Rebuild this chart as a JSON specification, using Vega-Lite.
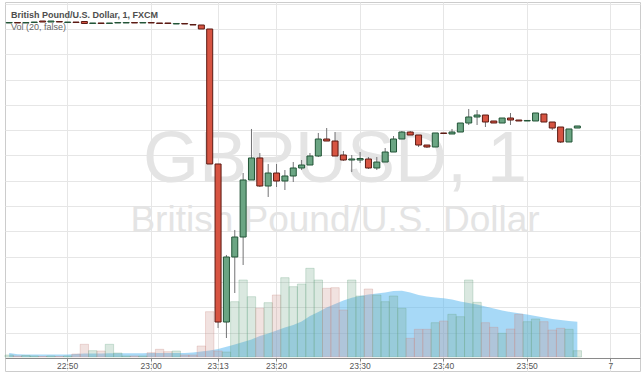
{
  "$schema": "https://vega.github.io/schema/vega-lite/v6.json",
  "width": 635,
  "height": 369,
  "autosize": {"type": "none"},
  "padding": {"left": 5, "top": 2, "right": 2, "bottom": 6},
  "background": "white",
  "title": {
    "text": "British Pound/U.S. Dollar, 1, FXCM",
    "subtitle": "Vol (20, false)",
    "anchor": "start",
    "frame": "group",
    "orient": "top",
    "offset": -30,
    "dx": 6,
    "font": "Liberation Sans",
    "fontSize": 9,
    "fontWeight": "bold",
    "color": "#4d4d4d",
    "subtitleFont": "Liberation Sans",
    "subtitleFontSize": 9,
    "subtitleColor": "#666666",
    "subtitlePadding": 3
  },
  "config": {
    "view": {"stroke": "#cccccc"},
    "text": {"font": "Liberation Sans"}
  },
  "datasets": {
    "bars": [
      {"t":"22:43","o":1.26119,"h":1.26128,"l":1.26119,"c":1.26128,"d":"up","v":20,"ma":40},
      {"t":"22:44","o":1.26128,"h":1.26128,"l":1.26119,"c":1.26119,"d":"down","v":10,"ma":28},
      {"t":"22:45","o":1.26119,"h":1.26128,"l":1.26119,"c":1.26128,"d":"up","v":15,"ma":25},
      {"t":"22:46","o":1.26128,"h":1.26138,"l":1.26128,"c":1.26138,"d":"up","v":10,"ma":25},
      {"t":"22:47","o":1.26158,"h":1.26158,"l":1.26138,"c":1.26138,"d":"down","v":5,"ma":25},
      {"t":"22:48","o":1.26138,"h":1.26158,"l":1.26138,"c":1.26158,"d":"up","v":10,"ma":25},
      {"t":"22:49","o":1.26148,"h":1.26148,"l":1.26138,"c":1.26138,"d":"down","v":5,"ma":25},
      {"t":"22:50","o":1.26128,"h":1.26138,"l":1.26128,"c":1.26138,"d":"up","v":10,"ma":25},
      {"t":"22:51","o":1.26138,"h":1.26138,"l":1.26128,"c":1.26128,"d":"down","v":30,"ma":30},
      {"t":"22:52","o":1.26148,"h":1.26148,"l":1.26109,"c":1.26109,"d":"down","v":127,"ma":35},
      {"t":"22:53","o":1.26109,"h":1.26119,"l":1.26109,"c":1.26119,"d":"up","v":63,"ma":35},
      {"t":"22:54","o":1.26119,"h":1.26119,"l":1.26109,"c":1.26109,"d":"down","v":60,"ma":35},
      {"t":"22:55","o":1.26109,"h":1.26119,"l":1.26109,"c":1.26119,"d":"up","v":127,"ma":38},
      {"t":"22:56","o":1.26119,"h":1.26128,"l":1.26119,"c":1.26128,"d":"up","v":40,"ma":38},
      {"t":"22:57","o":1.26119,"h":1.26128,"l":1.26119,"c":1.26128,"d":"up","v":10,"ma":38},
      {"t":"22:58","o":1.26128,"h":1.26128,"l":1.26119,"c":1.26119,"d":"down","v":10,"ma":38},
      {"t":"22:59","o":1.26119,"h":1.26128,"l":1.26119,"c":1.26128,"d":"up","v":10,"ma":38},
      {"t":"23:00","o":1.26128,"h":1.26128,"l":1.26119,"c":1.26119,"d":"down","v":43,"ma":40},
      {"t":"23:01","o":1.26119,"h":1.26119,"l":1.26109,"c":1.26109,"d":"down","v":77,"ma":40},
      {"t":"23:02","o":1.26119,"h":1.26119,"l":1.26109,"c":1.26109,"d":"down","v":53,"ma":40},
      {"t":"23:03","o":1.26099,"h":1.26109,"l":1.26099,"c":1.26109,"d":"up","v":60,"ma":40},
      {"t":"23:04","o":1.26109,"h":1.26109,"l":1.26099,"c":1.26099,"d":"down","v":20,"ma":40},
      {"t":"23:05","o":1.26089,"h":1.26089,"l":1.26079,"c":1.26079,"d":"down","v":20,"ma":45},
      {"t":"23:06","o":1.26079,"h":1.26079,"l":1.26000,"c":1.26000,"d":"down","v":110,"ma":55},
      {"t":"23:07","o":1.26000,"h":1.26000,"l":1.23332,"c":1.23332,"d":"down","v":453,"ma":65},
      {"t":"23:13","o":1.23332,"h":1.23332,"l":1.20091,"c":1.20209,"d":"down","v":60,"ma":80},
      {"t":"23:14","o":1.20209,"h":1.21534,"l":1.19893,"c":1.21494,"d":"up","v":50,"ma":103},
      {"t":"23:15","o":1.21494,"h":1.22028,"l":1.20782,"c":1.21889,"d":"up","v":553,"ma":125},
      {"t":"23:16","o":1.21889,"h":1.23154,"l":1.21336,"c":1.23016,"d":"up","v":770,"ma":150},
      {"t":"23:17","o":1.23016,"h":1.24024,"l":1.23016,"c":1.23451,"d":"up","v":603,"ma":175},
      {"t":"23:18","o":1.23451,"h":1.23549,"l":1.22877,"c":1.22897,"d":"down","v":487,"ma":210},
      {"t":"23:19","o":1.22897,"h":1.23332,"l":1.22680,"c":1.23154,"d":"up","v":543,"ma":235},
      {"t":"23:20","o":1.23154,"h":1.23332,"l":1.22877,"c":1.22996,"d":"down","v":620,"ma":265},
      {"t":"23:21","o":1.22996,"h":1.23213,"l":1.22818,"c":1.23095,"d":"up","v":793,"ma":295},
      {"t":"23:22","o":1.23095,"h":1.23371,"l":1.22976,"c":1.23253,"d":"up","v":703,"ma":320},
      {"t":"23:23","o":1.23253,"h":1.23411,"l":1.23213,"c":1.23312,"d":"up","v":730,"ma":355},
      {"t":"23:24","o":1.23312,"h":1.23549,"l":1.23312,"c":1.23490,"d":"up","v":887,"ma":410},
      {"t":"23:25","o":1.23490,"h":1.23945,"l":1.23470,"c":1.23826,"d":"up","v":770,"ma":450},
      {"t":"23:26","o":1.23826,"h":1.24043,"l":1.23786,"c":1.23786,"d":"down","v":687,"ma":495},
      {"t":"23:27","o":1.23786,"h":1.23964,"l":1.23490,"c":1.23490,"d":"down","v":693,"ma":530},
      {"t":"23:28","o":1.23510,"h":1.23589,"l":1.23391,"c":1.23411,"d":"down","v":470,"ma":565},
      {"t":"23:29","o":1.23411,"h":1.23510,"l":1.23174,"c":1.23431,"d":"up","v":770,"ma":593},
      {"t":"23:30","o":1.23411,"h":1.23569,"l":1.23351,"c":1.23441,"d":"up","v":610,"ma":610},
      {"t":"23:31","o":1.23431,"h":1.23470,"l":1.23233,"c":1.23253,"d":"down","v":680,"ma":625},
      {"t":"23:32","o":1.23253,"h":1.23470,"l":1.23213,"c":1.23371,"d":"up","v":620,"ma":635},
      {"t":"23:33","o":1.23371,"h":1.23648,"l":1.23371,"c":1.23569,"d":"up","v":553,"ma":645},
      {"t":"23:34","o":1.23569,"h":1.23885,"l":1.23569,"c":1.23826,"d":"up","v":610,"ma":660},
      {"t":"23:35","o":1.23826,"h":1.23984,"l":1.23826,"c":1.23964,"d":"up","v":487,"ma":663},
      {"t":"23:36","o":1.23964,"h":1.23984,"l":1.23905,"c":1.23905,"d":"down","v":187,"ma":645},
      {"t":"23:37","o":1.23905,"h":1.23905,"l":1.23668,"c":1.23707,"d":"down","v":277,"ma":620},
      {"t":"23:38","o":1.23707,"h":1.23707,"l":1.23648,"c":1.23668,"d":"down","v":277,"ma":605},
      {"t":"23:39","o":1.23668,"h":1.23945,"l":1.23668,"c":1.23945,"d":"up","v":343,"ma":595},
      {"t":"23:40","o":1.23945,"h":1.23945,"l":1.23925,"c":1.23935,"d":"down","v":360,"ma":587},
      {"t":"23:41","o":1.23925,"h":1.24024,"l":1.23925,"c":1.23964,"d":"up","v":427,"ma":575},
      {"t":"23:42","o":1.23964,"h":1.24142,"l":1.23964,"c":1.24142,"d":"up","v":403,"ma":555},
      {"t":"23:43","o":1.24142,"h":1.24419,"l":1.24103,"c":1.24261,"d":"up","v":770,"ma":540},
      {"t":"23:44","o":1.24261,"h":1.24399,"l":1.24103,"c":1.24300,"d":"up","v":547,"ma":525},
      {"t":"23:45","o":1.24300,"h":1.24300,"l":1.24063,"c":1.24162,"d":"down","v":343,"ma":505},
      {"t":"23:46","o":1.24182,"h":1.24182,"l":1.24142,"c":1.24142,"d":"down","v":297,"ma":485},
      {"t":"23:47","o":1.24142,"h":1.24241,"l":1.24142,"c":1.24241,"d":"up","v":237,"ma":465},
      {"t":"23:48","o":1.24241,"h":1.24340,"l":1.24103,"c":1.24201,"d":"down","v":280,"ma":450},
      {"t":"23:49","o":1.24201,"h":1.24201,"l":1.24182,"c":1.24182,"d":"down","v":427,"ma":437},
      {"t":"23:50","o":1.24182,"h":1.24192,"l":1.24182,"c":1.24192,"d":"up","v":353,"ma":425},
      {"t":"23:51","o":1.24182,"h":1.24340,"l":1.24182,"c":1.24340,"d":"up","v":380,"ma":410},
      {"t":"23:52","o":1.24320,"h":1.24320,"l":1.24162,"c":1.24162,"d":"down","v":353,"ma":395},
      {"t":"23:53","o":1.24162,"h":1.24162,"l":1.24004,"c":1.24043,"d":"down","v":270,"ma":380},
      {"t":"23:54","o":1.24063,"h":1.24063,"l":1.23747,"c":1.23767,"d":"down","v":287,"ma":370},
      {"t":"23:55","o":1.23767,"h":1.24024,"l":1.23767,"c":1.24024,"d":"up","v":277,"ma":360},
      {"t":"23:56","o":1.24043,"h":1.24083,"l":1.24043,"c":1.24083,"d":"up","v":63,"ma":353}
    ]
  },
  "data": {"name": "bars"},
  "layer": [
    {
      "layer": [
        {
          "mark": {"type": "area", "color": "#4fb3f0", "opacity": 0.5},
          "encoding": {
            "x": {"field": "t", "type": "ordinal", "axis": {
                "values": ["22:50","23:00","23:13","23:20","23:30","23:40","23:50","00:00"],
                "labelExpr": "datum.value == '00:00' ? '7' : datum.value",
                "grid": true, "gridColor": "#e6e6e6", "bandPosition": 0.5,
                "tickSize": 3, "tickColor": "#888888", "domainColor": "#8a8a8a",
                "labelFont": "Liberation Sans", "labelFontSize": 8.5, "labelColor": "#555555",
                "labelPadding": 0, "labelAngle": 0, "title": null, "offset": -13},
              "scale": {"type": "band", "paddingInner": 0, "paddingOuter": 0, "domain": ["22:43","22:44","22:45","22:46","22:47","22:48","22:49","22:50","22:51","22:52","22:53","22:54","22:55","22:56","22:57","22:58","22:59","23:00","23:01","23:02","23:03","23:04","23:05","23:06","23:07","23:13","23:14","23:15","23:16","23:17","23:18","23:19","23:20","23:21","23:22","23:23","23:24","23:25","23:26","23:27","23:28","23:29","23:30","23:31","23:32","23:33","23:34","23:35","23:36","23:37","23:38","23:39","23:40","23:41","23:42","23:43","23:44","23:45","23:46","23:47","23:48","23:49","23:50","23:51","23:52","23:53","23:54","23:55","23:56","23:57","23:58","23:59","00:00","00:01","00:02","00:03"]}},
            "y": {"field": "ma", "type": "quantitative", "axis": null, "scale": {"domain": [-140, 3550], "nice": false, "zero": false}}
          }
        },
        {
          "mark": {"type": "bar", "fillOpacity": 0.25, "strokeOpacity": 0.3, "strokeWidth": 1},
          "encoding": {
            "x": {"field": "t", "type": "ordinal", "axis": {
                "values": ["22:50","23:00","23:13","23:20","23:30","23:40","23:50","00:00"],
                "labelExpr": "datum.value == '00:00' ? '7' : datum.value",
                "grid": true, "gridColor": "#e6e6e6", "bandPosition": 0.5,
                "tickSize": 3, "tickColor": "#888888", "domainColor": "#8a8a8a",
                "labelFont": "Liberation Sans", "labelFontSize": 8.5, "labelColor": "#555555",
                "labelPadding": 0, "labelAngle": 0, "title": null, "offset": -13},
              "scale": {"type": "band", "paddingInner": 0, "paddingOuter": 0, "domain": ["22:43","22:44","22:45","22:46","22:47","22:48","22:49","22:50","22:51","22:52","22:53","22:54","22:55","22:56","22:57","22:58","22:59","23:00","23:01","23:02","23:03","23:04","23:05","23:06","23:07","23:13","23:14","23:15","23:16","23:17","23:18","23:19","23:20","23:21","23:22","23:23","23:24","23:25","23:26","23:27","23:28","23:29","23:30","23:31","23:32","23:33","23:34","23:35","23:36","23:37","23:38","23:39","23:40","23:41","23:42","23:43","23:44","23:45","23:46","23:47","23:48","23:49","23:50","23:51","23:52","23:53","23:54","23:55","23:56","23:57","23:58","23:59","00:00","00:01","00:02","00:03"]}},
            "y": {"field": "v", "type": "quantitative", "axis": null, "scale": {"domain": [-140, 3550], "nice": false, "zero": false}},
            "fill": {"field": "d", "type": "nominal", "legend": null, "scale": {"domain": ["up", "down"], "range": ["#6ba583", "#c98a84"]}},
            "stroke": {"field": "d", "type": "nominal", "legend": null, "scale": {"domain": ["up", "down"], "range": ["#6ba583", "#c98a84"]}}
          }
        }
      ]
    },
    {
      "layer": [
        {
          "data": {"values": [{"wm": "GBPUSD, 1"}]},
          "mark": {"type": "text", "fontSize": 72, "color": "#e4e4e4", "align": "center", "baseline": "alphabetic"},
          "encoding": {
            "x": {"datum": "23:27", "type": "ordinal", "axis": {
                "values": ["22:50","23:00","23:13","23:20","23:30","23:40","23:50","00:00"],
                "labelExpr": "datum.value == '00:00' ? '7' : datum.value",
                "grid": true, "gridColor": "#e6e6e6", "bandPosition": 0.5,
                "tickSize": 3, "tickColor": "#888888", "domainColor": "#8a8a8a",
                "labelFont": "Liberation Sans", "labelFontSize": 8.5, "labelColor": "#555555",
                "labelPadding": 0, "labelAngle": 0, "title": null, "offset": -13},
              "scale": {"type": "band", "paddingInner": 0, "paddingOuter": 0, "domain": ["22:43","22:44","22:45","22:46","22:47","22:48","22:49","22:50","22:51","22:52","22:53","22:54","22:55","22:56","22:57","22:58","22:59","23:00","23:01","23:02","23:03","23:04","23:05","23:06","23:07","23:13","23:14","23:15","23:16","23:17","23:18","23:19","23:20","23:21","23:22","23:23","23:24","23:25","23:26","23:27","23:28","23:29","23:30","23:31","23:32","23:33","23:34","23:35","23:36","23:37","23:38","23:39","23:40","23:41","23:42","23:43","23:44","23:45","23:46","23:47","23:48","23:49","23:50","23:51","23:52","23:53","23:54","23:55","23:56","23:57","23:58","23:59","00:00","00:01","00:02","00:03"]}},
            "y": {"datum": 1.22976, "type": "quantitative", "scale": {"domain": [1.19241, 1.265336], "nice": false, "zero": false},
              "axis": {"values": [1.195, 1.2, 1.205, 1.21, 1.215, 1.22, 1.225, 1.23, 1.235, 1.24, 1.245, 1.25, 1.255, 1.26, 1.265],
                "grid": true, "gridColor": "#e6e6e6", "labels": false, "ticks": false, "domain": false, "title": null}},
            "text": {"field": "wm", "type": "nominal"}
          }
        },
        {
          "data": {"values": [{"wm": "British Pound/U.S. Dollar"}]},
          "mark": {"type": "text", "fontSize": 37, "color": "#e4e4e4", "align": "center", "baseline": "alphabetic"},
          "encoding": {
            "x": {"datum": "23:27", "type": "ordinal", "axis": {
                "values": ["22:50","23:00","23:13","23:20","23:30","23:40","23:50","00:00"],
                "labelExpr": "datum.value == '00:00' ? '7' : datum.value",
                "grid": true, "gridColor": "#e6e6e6", "bandPosition": 0.5,
                "tickSize": 3, "tickColor": "#888888", "domainColor": "#8a8a8a",
                "labelFont": "Liberation Sans", "labelFontSize": 8.5, "labelColor": "#555555",
                "labelPadding": 0, "labelAngle": 0, "title": null, "offset": -13},
              "scale": {"type": "band", "paddingInner": 0, "paddingOuter": 0, "domain": ["22:43","22:44","22:45","22:46","22:47","22:48","22:49","22:50","22:51","22:52","22:53","22:54","22:55","22:56","22:57","22:58","22:59","23:00","23:01","23:02","23:03","23:04","23:05","23:06","23:07","23:13","23:14","23:15","23:16","23:17","23:18","23:19","23:20","23:21","23:22","23:23","23:24","23:25","23:26","23:27","23:28","23:29","23:30","23:31","23:32","23:33","23:34","23:35","23:36","23:37","23:38","23:39","23:40","23:41","23:42","23:43","23:44","23:45","23:46","23:47","23:48","23:49","23:50","23:51","23:52","23:53","23:54","23:55","23:56","23:57","23:58","23:59","00:00","00:01","00:02","00:03"]}},
            "y": {"datum": 1.21988, "type": "quantitative", "scale": {"domain": [1.19241, 1.265336], "nice": false, "zero": false},
              "axis": {"values": [1.195, 1.2, 1.205, 1.21, 1.215, 1.22, 1.225, 1.23, 1.235, 1.24, 1.245, 1.25, 1.255, 1.26, 1.265],
                "grid": true, "gridColor": "#e6e6e6", "labels": false, "ticks": false, "domain": false, "title": null}},
            "text": {"field": "wm", "type": "nominal"}
          }
        },
        {
          "mark": {"type": "rule", "color": "#737375", "strokeWidth": 1},
          "encoding": {
            "x": {"field": "t", "type": "ordinal", "axis": {
                "values": ["22:50","23:00","23:13","23:20","23:30","23:40","23:50","00:00"],
                "labelExpr": "datum.value == '00:00' ? '7' : datum.value",
                "grid": true, "gridColor": "#e6e6e6", "bandPosition": 0.5,
                "tickSize": 3, "tickColor": "#888888", "domainColor": "#8a8a8a",
                "labelFont": "Liberation Sans", "labelFontSize": 8.5, "labelColor": "#555555",
                "labelPadding": 0, "labelAngle": 0, "title": null, "offset": -13},
              "scale": {"type": "band", "paddingInner": 0, "paddingOuter": 0, "domain": ["22:43","22:44","22:45","22:46","22:47","22:48","22:49","22:50","22:51","22:52","22:53","22:54","22:55","22:56","22:57","22:58","22:59","23:00","23:01","23:02","23:03","23:04","23:05","23:06","23:07","23:13","23:14","23:15","23:16","23:17","23:18","23:19","23:20","23:21","23:22","23:23","23:24","23:25","23:26","23:27","23:28","23:29","23:30","23:31","23:32","23:33","23:34","23:35","23:36","23:37","23:38","23:39","23:40","23:41","23:42","23:43","23:44","23:45","23:46","23:47","23:48","23:49","23:50","23:51","23:52","23:53","23:54","23:55","23:56","23:57","23:58","23:59","00:00","00:01","00:02","00:03"]}},
            "y": {"field": "l", "type": "quantitative",
              "scale": {"domain": [1.19241, 1.265336], "nice": false, "zero": false},
              "axis": {"values": [1.195, 1.2, 1.205, 1.21, 1.215, 1.22, 1.225, 1.23, 1.235, 1.24, 1.245, 1.25, 1.255, 1.26, 1.265],
                "grid": true, "gridColor": "#e6e6e6", "labels": false, "ticks": false, "domain": false, "title": null}},
            "y2": {"field": "h"}
          }
        },
        {
          "mark": {"type": "bar", "width": {"band": 0.72}, "strokeWidth": 1},
          "encoding": {
            "x": {"field": "t", "type": "ordinal", "axis": {
                "values": ["22:50","23:00","23:13","23:20","23:30","23:40","23:50","00:00"],
                "labelExpr": "datum.value == '00:00' ? '7' : datum.value",
                "grid": true, "gridColor": "#e6e6e6", "bandPosition": 0.5,
                "tickSize": 3, "tickColor": "#888888", "domainColor": "#8a8a8a",
                "labelFont": "Liberation Sans", "labelFontSize": 8.5, "labelColor": "#555555",
                "labelPadding": 0, "labelAngle": 0, "title": null, "offset": -13},
              "scale": {"type": "band", "paddingInner": 0, "paddingOuter": 0, "domain": ["22:43","22:44","22:45","22:46","22:47","22:48","22:49","22:50","22:51","22:52","22:53","22:54","22:55","22:56","22:57","22:58","22:59","23:00","23:01","23:02","23:03","23:04","23:05","23:06","23:07","23:13","23:14","23:15","23:16","23:17","23:18","23:19","23:20","23:21","23:22","23:23","23:24","23:25","23:26","23:27","23:28","23:29","23:30","23:31","23:32","23:33","23:34","23:35","23:36","23:37","23:38","23:39","23:40","23:41","23:42","23:43","23:44","23:45","23:46","23:47","23:48","23:49","23:50","23:51","23:52","23:53","23:54","23:55","23:56","23:57","23:58","23:59","00:00","00:01","00:02","00:03"]}},
            "y": {"field": "o", "type": "quantitative", "scale": {"domain": [1.19241, 1.265336], "nice": false, "zero": false},
              "axis": {"values": [1.195, 1.2, 1.205, 1.21, 1.215, 1.22, 1.225, 1.23, 1.235, 1.24, 1.245, 1.25, 1.255, 1.26, 1.265],
                "grid": true, "gridColor": "#e6e6e6", "labels": false, "ticks": false, "domain": false, "title": null}},
            "y2": {"field": "c"},
            "fill": {"field": "d", "type": "nominal", "legend": null, "scale": {"domain": ["up", "down"], "range": ["#6ba583", "#d75442"]}},
            "stroke": {"field": "d", "type": "nominal", "legend": null, "scale": {"domain": ["up", "down"], "range": ["#225437", "#5b1a13"]}}
          }
        }
      ]
    }
  ],
  "resolve": {"scale": {"y": "independent", "fill": "independent", "stroke": "independent"}}
}
